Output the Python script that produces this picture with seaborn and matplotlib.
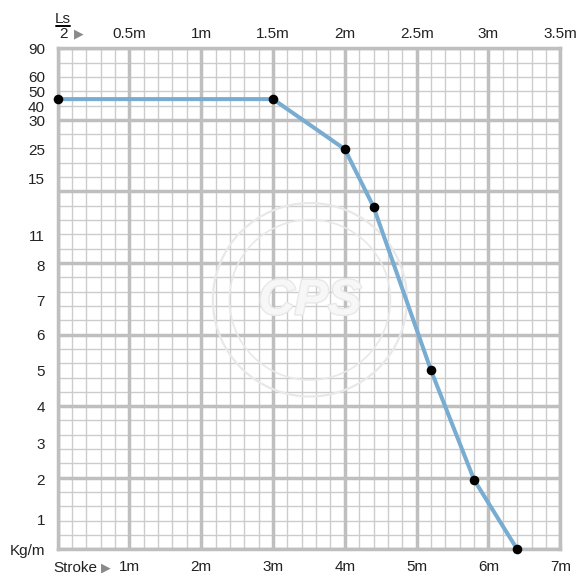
import numpy as np
import pandas as pd
import matplotlib
matplotlib.use("Agg")
import matplotlib.pyplot as plt
import matplotlib.patheffects as pe
from matplotlib.patches import Circle
import seaborn as sns

# ---- data ----
stroke_m = [0.0, 3.0, 4.0, 4.4, 5.2, 5.8, 6.4]
load_kg_m = [45, 45, 25, 13, 5, 2, 0]

# nonlinear y-axis: label values and their grid positions (in minor cells)
y_tick_values = [0, 1, 2, 3, 4, 5, 6, 7, 8, 11, 15, 25, 30, 40, 50, 60, 90]
y_tick_pos = [0, 2.05, 4.85, 7.4, 9.95, 12.5, 15.0, 17.4, 19.85, 21.95, 25.9, 27.95, 29.95, 30.95, 31.95, 33.0, 35.0]
y_tick_labels = ["Kg/m", "1", "2", "3", "4", "5", "6", "7", "8", "11", "15", "25", "30", "40", "50", "60", "90"]

x_bottom_ticks = [1, 2, 3, 4, 5, 6, 7]
x_bottom_labels = ["1m", "2m", "3m", "4m", "5m", "6m", "7m"]
x_top_ticks = [0.5, 1.0, 1.5, 2.0, 2.5, 3.0, 3.5]
x_top_labels = ["0.5m", "1m", "1.5m", "2m", "2.5m", "3m", "3.5m"]

df = pd.DataFrame({"stroke": stroke_m, "load": load_kg_m})

sns.set_theme(style="white")
plt.rcParams["font.family"] = ["Liberation Sans", "DejaVu Sans"]

FS = 11
W, H = 583, 573
fig = plt.figure(figsize=(W / 100, H / 100), dpi=100)
L, R, T, B = 57.5, 560.3, 48.3, 549.3
ax = fig.add_axes([L / W, (H - B) / H, (R - L) / W, (B - T) / H])

def fwd(v):
    return np.interp(v, y_tick_values, y_tick_pos)

def inv(p):
    return np.interp(p, y_tick_pos, y_tick_values)

ax.set_yscale("function", functions=(fwd, inv))
ax.set_xlim(0, 7)
ax.set_ylim(0, 90)

# grid
minor_c = "#cccccc"
major_c = "#bfbfbf"
for k in range(36):
    major = (k % 5 == 0)
    kw = dict(transform=ax.transAxes, color=major_c if major else minor_c,
              lw=2.5 if major else 1.0, zorder=1.5 if major else 1,
              solid_capstyle="butt")
    ax.plot([0, 1], [k / 35, k / 35], **kw)
    ax.plot([k / 35, k / 35], [0, 1], **kw)

# watermark
wm = "#e8e8e8"
ax.add_patch(Circle((0.502, 0.498), 0.193, transform=ax.transAxes, fill=False,
                    ec=wm, lw=1.6, zorder=1.6))
ax.add_patch(Circle((0.502, 0.498), 0.160, transform=ax.transAxes, fill=False,
                    ec=wm, lw=1.2, zorder=1.6))
t = ax.text(0.502, 0.495, "CPS", transform=ax.transAxes, ha="center", va="center",
            fontsize=36, fontweight="bold", style="italic", color="#f7f7f7", zorder=1.6)
t.set_path_effects([pe.withStroke(linewidth=2, foreground=wm)])

# data
sns.lineplot(data=df, x="stroke", y="load", ax=ax, color="#78acd0", lw=2.9,
             zorder=3, legend=False)
sns.scatterplot(data=df, x="stroke", y="load", ax=ax, color="black", s=48,
                edgecolor="black", linewidth=0, zorder=4, legend=False)
ax.collections[-1].set_clip_on(False)

# axes styling
for s in ax.spines.values():
    s.set_color("#bfbfbf")
    s.set_linewidth(2.5)
    s.set_zorder(2)
ax.set_xlabel("")
ax.set_ylabel("")
ax.set_yticks(y_tick_values, y_tick_labels)
ax.set_yticks([], minor=True)
ax.set_xticks(x_bottom_ticks, x_bottom_labels)
ax.tick_params(axis="both", length=0, labelsize=FS, colors="#222222")
ax.tick_params(axis="y", pad=9)
ax.tick_params(axis="x", pad=8)
ax.grid(False)

sec = ax.secondary_xaxis("top", functions=(lambda x: x / 2, lambda x: x * 2))
sec.set_xticks(x_top_ticks, x_top_labels)
sec.tick_params(length=0, labelsize=FS, pad=5, colors="#222222")
sec.spines["top"].set_visible(False)

# axis captions
fig.text(53 / W, 1 - 567.5 / H, "Stroke", ha="left", va="center", fontsize=FS, color="#222222")
fig.text(101 / W, 1 - 567.5 / H, "\u25B6", ha="left", va="center", fontsize=9, color="#8a8a8a",
         family="DejaVu Sans")
fig.text(63 / W, 1 - 19 / H, "Ls", ha="center", va="center", fontsize=FS, color="#222222")
fig.add_artist(plt.Line2D([56 / W, 70 / W], [1 - 25.5 / H, 1 - 25.5 / H], color="black", lw=1.4))
fig.text(63 / W, 1 - 33.5 / H, "2", ha="center", va="center", fontsize=FS, color="#222222")
fig.text(74 / W, 1 - 33.5 / H, "\u25B6", ha="left", va="center", fontsize=9, color="#8a8a8a",
         family="DejaVu Sans")

fig.savefig("out.png", dpi=100, facecolor="white")
